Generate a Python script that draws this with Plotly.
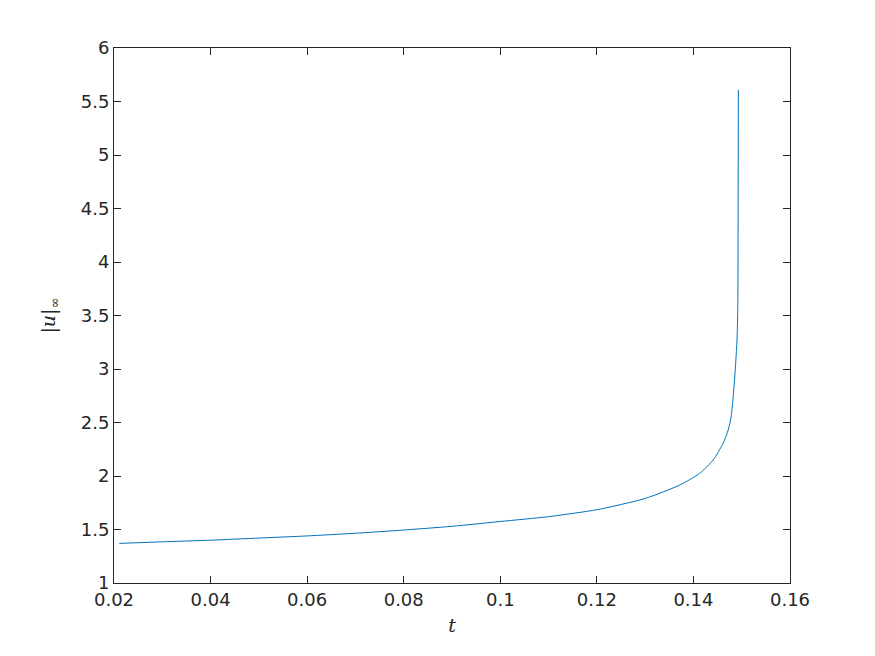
import plotly.graph_objects as go

# values
t = [0.0211, 0.03, 0.04, 0.05, 0.06, 0.07, 0.08, 0.09, 0.10, 0.11, 0.12,
     0.13, 0.1372, 0.1413, 0.1441, 0.1462, 0.1472, 0.1478, 0.1482, 0.1487,
     0.1490, 0.1491, 0.1492, 0.14925, 0.1493]
u_inf = [1.37, 1.385, 1.40, 1.42, 1.44, 1.465, 1.495, 1.53, 1.575, 1.62, 1.685,
         1.79, 1.916, 2.025, 2.15, 2.31, 2.43, 2.55, 2.72, 3.02,
         3.25, 3.38, 3.62, 4.3, 5.61]

x_ticks = [0.02, 0.04, 0.06, 0.08, 0.1, 0.12, 0.14, 0.16]
x_ticklabels = ["0.02", "0.04", "0.06", "0.08", "0.1", "0.12", "0.14", "0.16"]
y_ticks = [1, 1.5, 2, 2.5, 3, 3.5, 4, 4.5, 5, 5.5, 6]
y_ticklabels = ["1", "1.5", "2", "2.5", "3", "3.5", "4", "4.5", "5", "5.5", "6"]

fig = go.Figure(go.Scatter(x=t, y=u_inf, mode="lines",
                           line=dict(color="#0072BD", width=1, shape="spline", smoothing=0.6)))

axis_style = dict(showline=True, linecolor="#262626", linewidth=1, mirror="ticks",
                  ticks="inside", ticklen=7, tickcolor="#262626", showgrid=False,
                  zeroline=False, tickfont=dict(family="DejaVu Sans", size=18, color="#262626"))

fig.update_xaxes(range=[0.02, 0.16], tickvals=x_ticks, ticktext=x_ticklabels,
                 title=dict(text="<i>t</i>", font=dict(family="DejaVu Serif", size=19, color="#262626"),
                            standoff=10),
                 **axis_style)
fig.update_yaxes(range=[1, 6], tickvals=y_ticks, ticktext=y_ticklabels,
                 title=dict(text="|<i>u</i>|<sub>∞</sub>", font=dict(family="DejaVu Serif", size=19, color="#262626"),
                            standoff=20),
                 **axis_style)

# the page adds an 8 px body margin, so the margins are shifted to keep the plot box in place
fig.update_layout(width=875, height=656, showlegend=False,
                  plot_bgcolor="white", paper_bgcolor="white",
                  margin=dict(l=106, r=93, t=40, b=81))

fig.write_html("out.html")
